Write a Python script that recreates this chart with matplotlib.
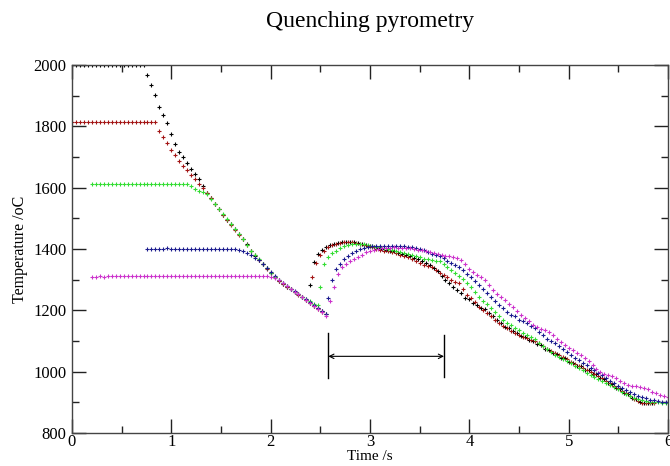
import numpy as np
import matplotlib
matplotlib.use("Agg")
import matplotlib.pyplot as plt

plt.rcParams["font.family"] = ["Liberation Serif", "DejaVu Serif"]

# Pyrometer samples every 0.04 s; each run is logged as two segments
# (initial hold + cooling, then the reheat after quenching).
SAMPLE_DT = 0.04

run_names = ["2000", "1815", "1611", "1400", "1313"]
run_colors = ["#000000", "#a31515", "#33dd33", "#1c1c8f", "#cc33cc"]

# segment 1: hold then cool
seg1_start = [0.00, 0.00, 0.20, 0.76, 0.20]
seg1_temp = [
    [2000] * 19 + [
        1967, 1935, 1903, 1864, 1838, 1812, 1774, 1742, 1715, 1700,
        1680, 1662, 1645, 1627, 1605, 1584, 1565, 1547, 1530, 1512,
        1496, 1480, 1465, 1448, 1432, 1415, 1393, 1378, 1364, 1350,
        1337, 1322, 1308, 1296, 1286, 1276, 1268, 1260, 1252, 1243,
        1234, 1225, 1215, 1206, 1197, 1188],
    [1815] * 22 + [
        1786, 1766, 1745, 1722, 1705, 1688, 1672, 1657, 1642, 1627,
        1612, 1598, 1582, 1565, 1546, 1529, 1511, 1495, 1479, 1463,
        1447, 1431, 1413, 1394, 1379, 1365, 1351, 1336, 1323, 1309,
        1297, 1287, 1277, 1268, 1259, 1251, 1242, 1233, 1224, 1214,
        1205, 1196],
    [1611] * 25 + [
        1604, 1597, 1590, 1585, 1578, 1564, 1547, 1530, 1513, 1497,
        1481, 1464, 1448, 1432, 1414, 1395, 1380, 1366, 1351, 1337,
        1323, 1310, 1298, 1288, 1278, 1269, 1261, 1253, 1245, 1237,
        1229, 1222, 1216],
    [1400, 1400, 1400, 1401, 1400, 1402, 1400, 1399, 1400, 1400,
     1400, 1400, 1400, 1400, 1400, 1400, 1400, 1400, 1400, 1400,
     1400, 1400, 1400,
     1398, 1394, 1387, 1380, 1372, 1364, 1351, 1338, 1324, 1311,
     1299, 1289, 1279, 1270, 1262, 1254, 1245, 1236, 1227, 1217,
     1207, 1197, 1188],
    [1309, 1310, 1311, 1310, 1313, 1312, 1313, 1313, 1313, 1313,
     1313, 1313, 1313, 1313, 1313, 1313, 1313, 1313, 1313, 1313,
     1313, 1313, 1313, 1313, 1313, 1313, 1313, 1313, 1313, 1313,
     1313, 1313, 1313, 1313, 1313, 1313, 1313, 1313, 1313, 1313,
     1313, 1313, 1313, 1313, 1313,
     1310, 1305, 1298, 1289, 1279, 1270, 1261, 1252, 1243, 1233,
     1223, 1213, 1203, 1193, 1182],
]

# segment 2: reheat after quench, then slow cooling
seg2_start = [2.40, 2.42, 2.50, 2.58, 2.60]
seg2_temp = [
    [1283, 1359, 1385, 1397, 1406, 1412, 1416, 1420, 1422, 1424,
     1424, 1422, 1419, 1416, 1413, 1411, 1407, 1404, 1401, 1398,
     1395, 1392, 1388, 1384, 1380, 1376, 1372, 1368, 1362, 1355,
     1347, 1338, 1328, 1312, 1298, 1290, 1276, 1266, 1256, 1241,
     1236, 1224, 1219, 1208, 1204, 1191, 1182, 1168, 1160, 1146,
     1142, 1131, 1127, 1115, 1112, 1102, 1100, 1090, 1086, 1074,
     1070, 1060, 1057, 1046, 1043, 1032, 1029, 1019, 1017, 1007,
     1004, 993, 991, 980, 976, 964, 960, 948, 944, 932,
     927, 914, 910, 902, 899, 898, 898],
    [1310, 1353, 1380, 1395, 1405, 1412, 1417, 1420, 1422, 1423,
     1422, 1420, 1417, 1413, 1409, 1405, 1401, 1398, 1395, 1392,
     1389, 1386, 1382, 1378, 1375, 1368, 1360, 1353, 1348, 1345,
     1342, 1332, 1322, 1315, 1308, 1300, 1294, 1288, 1270, 1250,
     1240, 1226, 1212, 1201, 1190, 1180, 1170, 1160, 1150, 1141,
     1133, 1126, 1120, 1114, 1109, 1104, 1100, 1092, 1083, 1075,
     1068, 1061, 1054, 1047, 1040, 1032, 1025, 1019, 1012, 1005,
     999, 992, 985, 978, 970, 962, 954, 946, 938, 929,
     920, 911, 903, 899, 897, 897, 897],
    [1275, 1350, 1375, 1386, 1395, 1403, 1409, 1413, 1416, 1417,
     1417, 1416, 1414, 1411, 1408, 1405, 1402, 1399, 1396, 1393,
     1390, 1387, 1384, 1381, 1377, 1373, 1369, 1366, 1364, 1362,
     1360, 1352, 1340, 1330, 1322, 1313, 1302, 1290, 1275, 1260,
     1245, 1232, 1220, 1208, 1196, 1183, 1170, 1160, 1151, 1143,
     1135, 1127, 1120, 1113, 1106, 1095, 1085, 1075, 1064, 1055,
     1048, 1041, 1034, 1027, 1020, 1012, 1005, 996, 989, 982,
     975, 968, 962, 956, 949, 942, 934, 927, 920, 915,
     910, 906, 903, 901, 900, 900, 899, 899],
    [1239, 1300, 1334, 1352, 1368, 1378, 1387, 1393, 1399, 1404,
     1408, 1410, 1411, 1411, 1411, 1411, 1411, 1411, 1410, 1409,
     1408, 1405, 1403, 1400, 1396, 1390, 1385, 1382, 1378, 1370,
     1362, 1355, 1348, 1340, 1330, 1319, 1308, 1295, 1283, 1268,
     1255, 1242, 1230, 1218, 1206, 1195, 1186, 1180, 1170, 1166,
     1160, 1150, 1143, 1128, 1118, 1108, 1100, 1092, 1084, 1075,
     1065, 1055, 1046, 1037, 1029, 1021, 1013, 1005, 997, 988,
     979, 970, 962, 954, 947, 940, 933, 927, 922, 917,
     913, 909, 906, 903, 902, 901],
    [1231, 1275, 1320, 1340, 1350, 1360, 1368, 1375, 1380, 1390,
     1395, 1398, 1400, 1402, 1403, 1404, 1405, 1404, 1404, 1403,
     1402, 1400, 1398, 1396, 1394, 1390, 1386, 1383, 1380, 1378,
     1377, 1374, 1371, 1365, 1350, 1335, 1325, 1316, 1308, 1298,
     1282, 1265, 1252, 1243, 1233, 1222, 1210, 1198, 1185, 1175,
     1165, 1152, 1145, 1140, 1136, 1128, 1118, 1108, 1098, 1088,
     1078, 1070, 1062, 1054, 1046, 1035, 1022, 1010, 1000, 994,
     990, 985, 978, 970, 962, 957, 954, 952, 951, 948,
     942, 935, 929, 924, 920, 916],
]

# interval marker drawn on the original
arrow_t = (2.58, 3.745)
arrow_temp = 1050
bar_low = (978, 984)
bar_high = (1125, 1120)

fig = plt.figure(figsize=(6.70, 4.66), dpi=100)
ax = fig.add_axes([72 / 670, 33 / 466, 596 / 670, 368 / 466])

for i in range(len(run_names)):
    for start, temps in ((seg1_start[i], seg1_temp[i]), (seg2_start[i], seg2_temp[i])):
        temps = np.array(temps, dtype=float)
        t = start + SAMPLE_DT * np.arange(len(temps))
        ax.plot(t, temps, linestyle="none", marker="+", markersize=3.2,
                markeredgewidth=0.8, color=run_colors[i], label=run_names[i])

for k in range(2):
    ax.plot([arrow_t[k], arrow_t[k]], [bar_low[k], bar_high[k]],
            color="black", linewidth=1.0)
ax.annotate("", xy=(arrow_t[0], arrow_temp), xytext=(arrow_t[1], arrow_temp),
            arrowprops=dict(arrowstyle="<->", color="black", lw=0.8,
                            shrinkA=0, shrinkB=0, mutation_scale=8))

ax.set_xlim(0, 6)
ax.set_ylim(800, 2000)
ax.set_xticks(np.arange(0, 7, 1))
ax.set_xticks(np.arange(0, 6.01, 0.5), minor=True)
ax.set_yticks(np.arange(800, 2001, 200))
ax.set_yticks(np.arange(800, 2001, 100), minor=True)
ax.tick_params(which="both", direction="in", top=True, right=True,
               labelsize=12, color="#222222")
ax.tick_params(which="major", length=10, width=1.0)
ax.tick_params(which="minor", length=5, width=1.0)
ax.tick_params(axis="x", pad=1)
ax.tick_params(axis="y", pad=4)
for side in ax.spines.values():
    side.set_color("#444444")
    side.set_linewidth(1.0)

ax.set_xlabel("Time /s", fontsize=11, labelpad=0)
ax.set_ylabel("Temperature /oC", fontsize=11.5, labelpad=4)
fig.text(370 / 670, 1 - 27 / 466, "Quenching pyrometry", fontsize=17,
         ha="center", va="baseline")

fig.savefig("out.png", dpi=100)
